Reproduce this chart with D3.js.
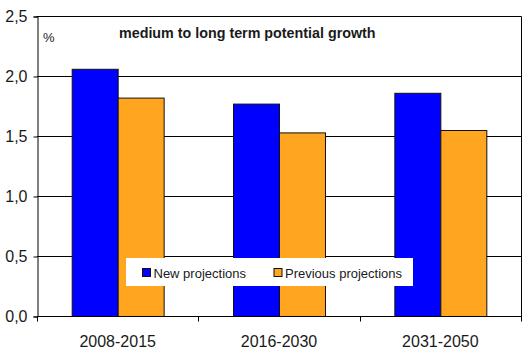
<!DOCTYPE html>
<html>
<head>
<meta charset="utf-8">
<script src="https://cdn.jsdelivr.net/npm/d3@7"></script>
<style>
  html, body { margin: 0; padding: 0; background: #fff; }
  svg { display: block; }
  text { font-family: "Liberation Sans", Arial, sans-serif; fill: #1a1a1a; }
</style>
</head>
<body>
<script>
const categories = ["2008-2015", "2016-2030", "2031-2050"];
const seriesNames = ["New projections", "Previous projections"];
const newProjections = [2.06, 1.77, 1.86];
const previousProjections = [1.82, 1.53, 1.55];
const yTicks = [0, 0.5, 1.0, 1.5, 2.0, 2.5];
const yTickLabels = ["0,0", "0,5", "1,0", "1,5", "2,0", "2,5"];
const colors = ["#0000FF", "#FFA51F"];
const title = "medium to long term potential growth";
const unitLabel = "%";

const W = 531, H = 360;
const pLeft = 37, pRight = 521, pTop = 16.5, pBottom = 316.5;

const svg = d3.select("body").append("svg").attr("width", W).attr("height", H);

const y = d3.scaleLinear().domain([0, 2.5]).range([pBottom, pTop]);
const x0 = d3.scaleBand().domain(categories).range([pLeft, pRight]).padding(0);
const gw = x0.bandwidth() * 0.57;
const x1 = d3.scaleBand().domain(seriesNames)
  .range([(x0.bandwidth() - gw) / 2, (x0.bandwidth() + gw) / 2]).padding(0);

const values = [newProjections, previousProjections];

// gridlines
svg.append("g").selectAll("line").data(yTicks.filter(t => t > 0 && t < 2.5)).join("line")
  .attr("x1", pLeft).attr("x2", pRight)
  .attr("y1", d => y(d)).attr("y2", d => y(d))
  .attr("stroke", "#000").attr("stroke-width", 1);

// bars
seriesNames.forEach((s, si) => {
  svg.append("g").selectAll("rect").data(categories).join("rect")
    .attr("x", c => x0(c) + x1(s) + 0.5)
    .attr("width", x1.bandwidth())
    .attr("y", (c, i) => y(values[si][i]))
    .attr("height", (c, i) => y(0) - y(values[si][i]))
    .attr("fill", colors[si])
    .attr("stroke", "#111").attr("stroke-width", 1);
});

// frame
svg.append("line").attr("x1", pLeft - 0.5).attr("x2", pRight + 0.5).attr("y1", pTop).attr("y2", pTop).attr("stroke", "#000");
svg.append("line").attr("x1", pRight + 0.5).attr("x2", pRight + 0.5).attr("y1", pTop).attr("y2", pBottom).attr("stroke", "#000");

// y axis
const yAxis = d3.axisLeft(y).tickValues(yTicks).tickSize(4).tickPadding(6)
  .tickFormat((d, i) => yTickLabels[i]);
const gy = svg.append("g").attr("transform", `translate(${pLeft + 0.5},0)`).call(yAxis);
gy.select(".domain").attr("stroke", "#000");
gy.selectAll(".tick line").attr("stroke", "#000");
gy.selectAll("text").attr("font-size", 16).attr("fill", "#1a1a1a")
  .attr("font-family", "'Liberation Sans', Arial, sans-serif");

// x axis
const xAxis = d3.axisBottom(x0).tickSize(0).tickPadding(19);
const gx = svg.append("g").attr("transform", `translate(0,${pBottom})`).call(xAxis);
gx.select(".domain").remove();
gx.selectAll("text").attr("font-size", 16).attr("fill", "#1a1a1a")
  .attr("font-family", "'Liberation Sans', Arial, sans-serif");
svg.append("line").attr("x1", pLeft).attr("x2", pRight + 1).attr("y1", pBottom).attr("y2", pBottom).attr("stroke", "#000");
const boundaries = categories.map(c => x0(c)).concat([x0(categories[categories.length - 1]) + x0.bandwidth()]);
svg.append("g").selectAll("line").data(boundaries).join("line")
  .attr("x1", d => Math.round(d) + 0.5).attr("x2", d => Math.round(d) + 0.5)
  .attr("y1", pBottom).attr("y2", pBottom + 5).attr("stroke", "#000");

// title and unit
svg.append("text").attr("x", 119).attr("y", 38).attr("font-size", 14.3).attr("font-weight", "bold")
  .text(title);
svg.append("text").attr("x", 43).attr("y", 42).attr("font-size", 13).text(unitLabel);

// legend
const lg = svg.append("g");
lg.append("rect").attr("x", 126).attr("y", 258).attr("width", 287).attr("height", 28).attr("fill", "#fff");
const legendX = [142, 273.5];
seriesNames.forEach((s, i) => {
  lg.append("rect").attr("x", legendX[i] + 0.5).attr("y", 268.5).attr("width", 8).attr("height", 8)
    .attr("fill", colors[i]).attr("stroke", "#111").attr("stroke-width", 1);
  lg.append("text").attr("x", legendX[i] + 11.5).attr("y", 278).attr("font-size", 13).text(s);
});
</script>
</body>
</html>
